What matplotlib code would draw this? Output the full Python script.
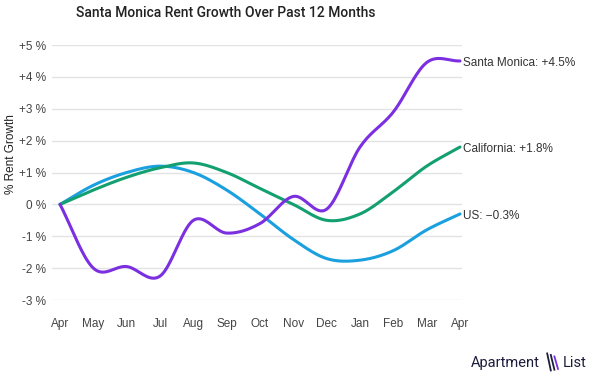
import numpy as np
import matplotlib

matplotlib.use("Agg")
import matplotlib.pyplot as plt

plt.rcParams["font.family"] = ["Liberation Sans", "DejaVu Sans"]

months = ["Apr", "May", "Jun", "Jul", "Aug", "Sep", "Oct", "Nov", "Dec", "Jan", "Feb", "Mar", "Apr"]
santa_monica = [0.0, -2.0, -1.95, -2.25, -0.5, -0.9, -0.6, 0.25, -0.15, 1.8, 2.9, 4.45, 4.5]
california = [0.0, 0.45, 0.85, 1.15, 1.3, 1.0, 0.5, 0.0, -0.5, -0.3, 0.4, 1.2, 1.8]
us = [0.0, 0.6, 1.0, 1.2, 1.0, 0.45, -0.3, -1.1, -1.7, -1.75, -1.45, -0.8, -0.3]
y_ticks = [-3, -2, -1, 0, 1, 2, 3, 4, 5]

series = [
    ("US", us, "#1a9fdf", "US: \u22120.3%"),
    ("California", california, "#13a070", "California: +1.8%"),
    ("Santa Monica", santa_monica, "#7b2fe0", "Santa Monica: +4.5%"),
]


def catmull_rom(x, y, n=20):
    # smooth curve through the monthly points
    x = np.asarray(x, float)
    y = np.asarray(y, float)
    px = np.concatenate([[2 * x[0] - x[1]], x, [2 * x[-1] - x[-2]]])
    py = np.concatenate([[2 * y[0] - y[1]], y, [2 * y[-1] - y[-2]]])
    xs, ys = [], []
    t = np.linspace(0, 1, n, endpoint=False)
    for i in range(1, len(px) - 2):
        for p, out in ((px, xs), (py, ys)):
            p0, p1, p2, p3 = p[i - 1], p[i], p[i + 1], p[i + 2]
            out.append(0.5 * (2 * p1 + (-p0 + p2) * t
                              + (2 * p0 - 5 * p1 + 4 * p2 - p3) * t ** 2
                              + (-p0 + 3 * p1 - 3 * p2 + p3) * t ** 3))
    xs.append([x[-1]])
    ys.append([y[-1]])
    return np.concatenate(xs), np.concatenate(ys)


fig = plt.figure(figsize=(6, 3.78), dpi=100)
ax = fig.add_axes([0.0867, 0.2063, 0.6833, 0.6746])

x = np.arange(len(months))
for name, vals, color, label in series:
    sx, sy = catmull_rom(x, vals)
    ax.plot(sx, sy, color=color, linewidth=2.2, solid_capstyle="round", zorder=3)
    ax.text(x[-1] + 0.1, vals[-1] - 0.05, label, fontsize=8.5, color="#333333",
            va="center", ha="left", clip_on=False)

ax.set_xlim(-0.24, 12.06)
ax.set_ylim(-3, 5)
ax.set_yticks(y_ticks)
ax.set_yticklabels([("+%d %%" % v) if v > 0 else ("%d %%" % v) for v in y_ticks])
ax.set_xticks(x)
ax.set_xticklabels(months)
ax.tick_params(length=0, labelsize=8.5, labelcolor="#444444")
ax.tick_params(axis="x", pad=13)
ax.tick_params(axis="y", pad=4)
ax.grid(axis="y", color="#e3e3e3", linewidth=1)
for s in ax.spines.values():
    s.set_visible(False)
fig.text(0.019, 0.593, "% Rent Growth", fontsize=8.5, color="#222222",
         rotation=90, ha="center", va="center")

fig.text(0.377, 0.965, "Santa Monica Rent Growth Over Past 12 Months", family="Roboto",
         fontsize=10, fontweight="medium", color="#222222", ha="center", va="center")

# logo
fig.text(0.785, 0.04, "Apartment", family="Roboto", fontsize=10.5, color="#1c1c3c",
         ha="left", va="center")
fig.text(0.938, 0.04, "List", family="Roboto", fontsize=10.5, color="#1c1c3c",
         ha="left", va="center")
for i, c in enumerate(["#1c1c3c", "#1c1c3c", "#7b2fe0"]):
    fig.add_artist(plt.Line2D([0.912 + i * 0.006, 0.918 + i * 0.006],
                              [0.065 - i * 0.004, 0.02 + i * 0.002],
                              color=c, linewidth=1.3, transform=fig.transFigure))

fig.savefig("out.png", dpi=100)
